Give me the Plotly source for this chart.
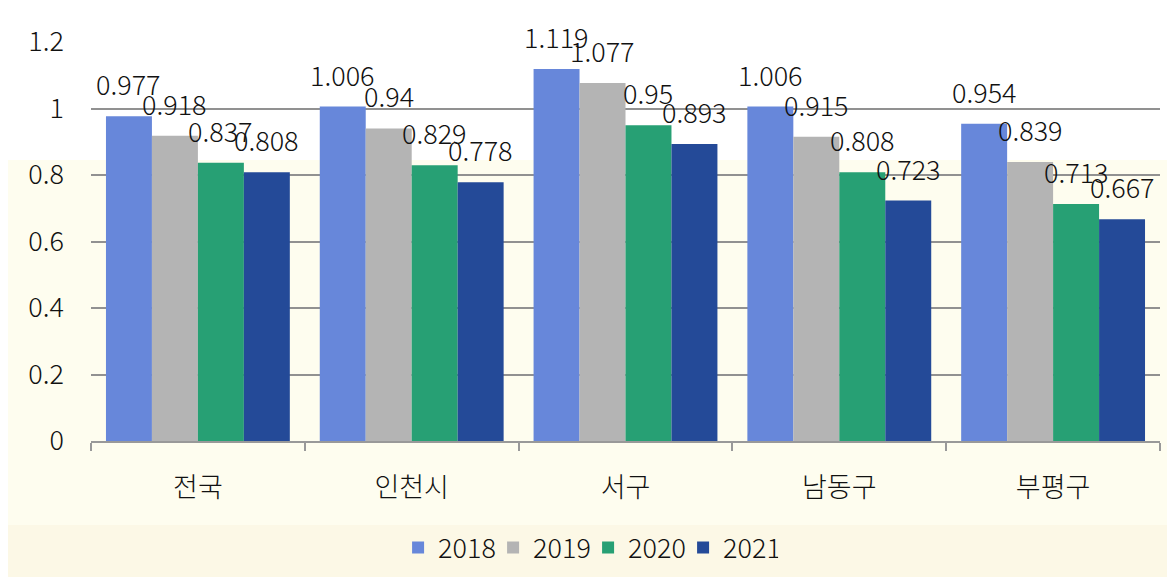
import plotly.graph_objects as go

regions = ["전국", "인천시", "서구", "남동구", "부평구"]
years = ["2018", "2019", "2020", "2021"]
v2018 = [0.977, 1.006, 1.119, 1.006, 0.954]
v2019 = [0.918, 0.94, 1.077, 0.915, 0.839]
v2020 = [0.837, 0.829, 0.95, 0.808, 0.713]
v2021 = [0.808, 0.778, 0.893, 0.723, 0.667]
y_ticks = [0, 0.2, 0.4, 0.6, 0.8, 1, 1.2]

series = [v2018, v2019, v2020, v2021]
colors = ["#6787da", "#b4b4b4", "#27a074", "#244a98"]

W, H = 1175, 577
OFF = 8  # page body margin
ML, MR, MT, MB = 83, 23, 34, 144
FONT = "Noto Sans CJK KR"
bargap = 0.14

fig = go.Figure()
for name, vals, col in zip(years, series, colors):
    fig.add_trace(go.Bar(x=regions, y=vals, name=name, marker_color=col,
                         marker_line_width=0))

# data labels above each bar
slot = (W - ML - MR) / len(regions)
bw = slot * (1 - bargap) / len(years)
for i, vals in enumerate(series):
    for r, v in zip(regions, vals):
        fig.add_annotation(x=r, y=v, text=str(v), showarrow=False,
                           xshift=(i - 1.5) * bw, yshift=11, yanchor="bottom",
                           font=dict(family=FONT, size=27, color="#111", weight=300))

def px(xp):
    return (xp - OFF - ML) / (W - ML - MR)

def py(yp):
    return (H - MB - (yp - OFF)) / (H - MT - MB)

# background bands and frame
bands = [(3, 160, "#ffffff"), (160, 525, "#fefdef"), (525, 590, "#fcf8e6")]
for y0, y1, c in bands:
    fig.add_shape(type="rect", xref="paper", yref="paper", layer="below",
                  x0=px(5), x1=px(1173), y0=py(y1), y1=py(y0),
                  fillcolor=c, line_width=0)
fig.add_shape(type="rect", xref="paper", yref="paper", layer="below",
              x0=px(5), x1=px(1173), y0=py(600), y1=py(3),
              fillcolor="rgba(0,0,0,0)", line=dict(color="#a0a0a0", width=2))

fig.update_layout(
    width=W, height=H,
    margin=dict(l=ML, r=MR, t=MT, b=MB, autoexpand=False),
    paper_bgcolor="white", plot_bgcolor="rgba(0,0,0,0)",
    barmode="group", bargap=bargap, bargroupgap=0,
    font=dict(family=FONT, size=27, color="#111", weight=300),
    legend=dict(orientation="h", x=0.465, xanchor="center", y=-0.268,
                yanchor="middle", font=dict(size=27), itemwidth=30,
                entrywidth=50, bgcolor="rgba(0,0,0,0)"),
    showlegend=True,
)
fig.update_xaxes(showline=True, linecolor="#999", linewidth=2,
                 ticks="outside", tickson="boundaries", ticklen=8,
                 tickcolor="#999", tickwidth=2, ticklabelstandoff=22,
                 showgrid=False, automargin=False)
fig.update_yaxes(range=[0, 1.2], tickvals=y_ticks, ticktext=[f"{t:g}" for t in y_ticks],
                 showgrid=True, gridcolor="#919191", gridwidth=1.5, zeroline=False,
                 showline=False, ticks="", ticklabelstandoff=26, automargin=False)

fig.write_html("out.html")
